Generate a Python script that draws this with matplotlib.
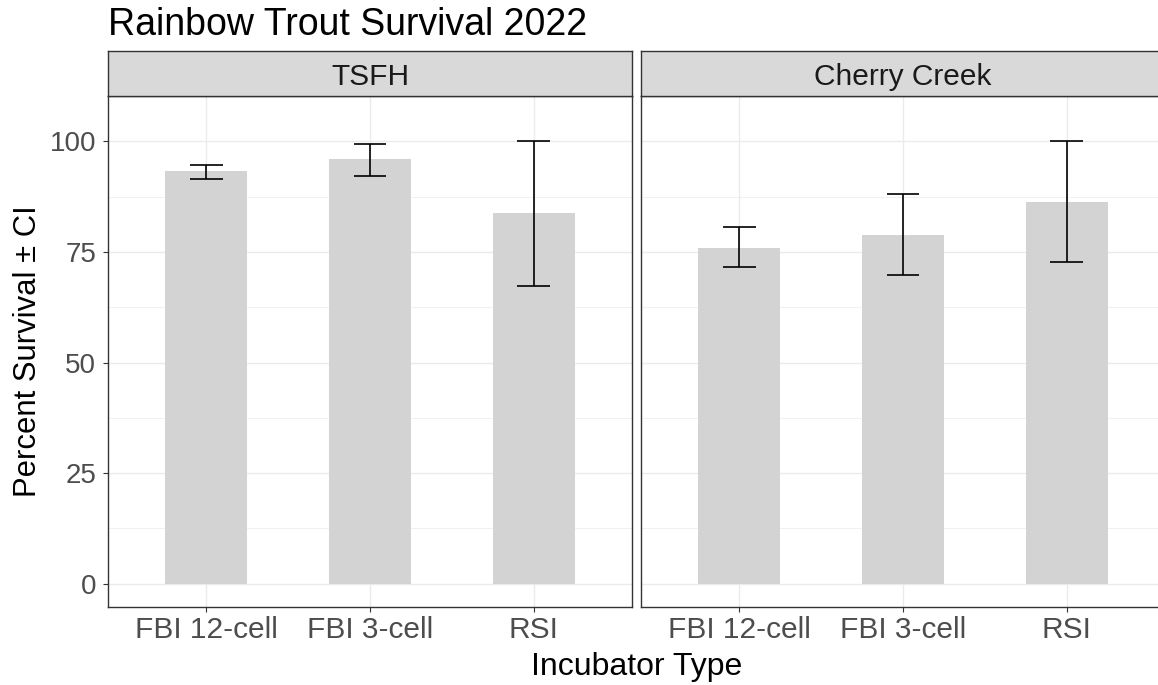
import matplotlib
matplotlib.use('Agg')
import matplotlib.pyplot as plt
import numpy as np

plt.rcParams['font.family'] = ['Liberation Sans', 'DejaVu Sans']

# ─── Data ───────────────────────────────────────────────────────────────────
categories = ['FBI 12-cell', 'FBI 3-cell', 'RSI']
sites = ['TSFH', 'Cherry Creek']
survival = {
    'TSFH':         [93.3, 95.9, 83.7],
    'Cherry Creek': [76.0, 78.9, 86.3],
}
ci_low = {
    'TSFH':         [91.4, 92.1, 67.2],
    'Cherry Creek': [71.5, 69.7, 72.7],
}
ci_high = {
    'TSFH':         [94.7, 99.4, 100.0],
    'Cherry Creek': [80.6, 88.2, 100.0],
}
y_ticks = [0, 25, 50, 75, 100]
y_minor = [12.5, 37.5, 62.5, 87.5]

# ─── Layout in pixels ───────────────────────────────────────────────────────
W, H = 1158, 685
fig = plt.figure(figsize=(W/100, H/100), dpi=100)
fig.patch.set_facecolor('white')

PANEL_W = 524
PANEL_TOP, PANEL_BOT = 96, 607
STRIP_TOP = 51
lefts = [108, 641]

TXT = '#4D4D4D'
LINE = '#333333'

for i, site in enumerate(sites):
    x0 = lefts[i]
    ax = fig.add_axes([x0/W, (H-PANEL_BOT)/H, PANEL_W/W, (PANEL_BOT-PANEL_TOP)/H])
    xs = np.arange(1, len(categories)+1)

    ax.bar(xs, survival[site], width=0.5, color='#D3D3D3', zorder=2)
    ax.vlines(xs, ci_low[site], ci_high[site], color='black', lw=1.2, zorder=3)
    ax.hlines(ci_low[site], xs-0.1, xs+0.1, color='black', lw=1.2, zorder=3)
    ax.hlines(ci_high[site], xs-0.1, xs+0.1, color='black', lw=1.2, zorder=3)

    ax.set_xlim(0.4, 3.6)
    ax.set_ylim(-5.25, 110.25)
    ax.set_xticks(xs)
    ax.set_xticklabels(categories)
    ax.set_yticks(y_ticks)
    ax.set_yticks(y_minor, minor=True)
    ax.grid(True, which='major', color='#EBEBEB', lw=1.0, zorder=0)
    ax.grid(True, which='minor', axis='y', color='#EBEBEB', lw=0.5, zorder=0)
    ax.set_axisbelow(True)
    ax.tick_params(which='major', length=3.5, width=0.8, color=LINE,
                   labelcolor=TXT)
    ax.tick_params(axis='x', labelsize=21.5, pad=3)
    ax.tick_params(axis='y', labelsize=20, pad=5)
    ax.tick_params(which='minor', length=0)
    if i == 1:
        ax.tick_params(axis='y', left=False, labelleft=False)
    for s in ax.spines.values():
        s.set_color(LINE)
        s.set_linewidth(1.0)

    # facet strip
    sx = fig.add_axes([x0/W, (H-PANEL_TOP)/H, PANEL_W/W, (PANEL_TOP-STRIP_TOP)/H])
    sx.set_facecolor('#D9D9D9')
    sx.set_xticks([])
    sx.set_yticks([])
    for s in sx.spines.values():
        s.set_color(LINE)
        s.set_linewidth(1.0)
    sx.text(0.5, 0.25, site, ha='center', va='baseline', fontsize=21.5,
            color='#1A1A1A', transform=sx.transAxes)

fig.text(108/W, (H-35)/H, 'Rainbow Trout Survival 2022', ha='left',
         va='baseline', fontsize=27, color='black')
fig.text(636.5/W, (H-675)/H, 'Incubator Type', ha='center', va='baseline',
         fontsize=23, color='black')
fig.text(28/W, (H-351)/H, 'Percent Survival ± CI', ha='center', va='center',
         rotation=90, fontsize=22.3, color='black')

fig.savefig('out.png', dpi=100, facecolor='white')
